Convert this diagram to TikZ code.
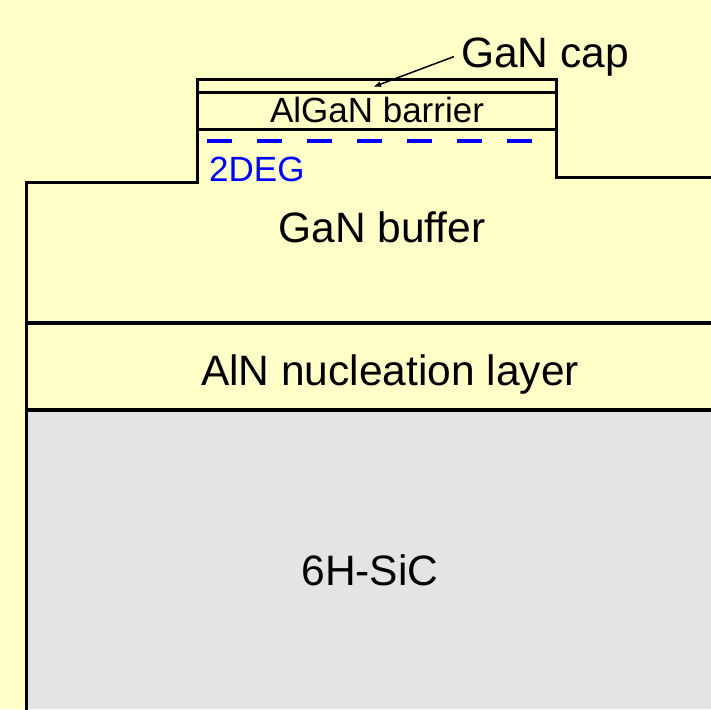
\documentclass[tikz,border=0pt]{standalone}
\usepackage{fontspec}
\setmainfont{Liberation Sans}
\usetikzlibrary{arrows.meta}
\definecolor{bgyellow}{RGB}{255,255,200}
\definecolor{sicgray}{RGB}{228,228,228}
\definecolor{degblue}{RGB}{0,0,255}
\begin{document}
\begin{tikzpicture}[x=1pt,y=-1pt,
  layer/.style={line width=3pt, line join=miter},
  big/.style={font=\fontsize{42.5}{42.5}\selectfont, inner sep=0pt, anchor=base},
  small/.style={font=\fontsize{35}{35}\selectfont, inner sep=0pt, anchor=base}]
\fill[bgyellow] (0,0) rectangle (711,709);
\useasboundingbox (0,0) rectangle (711,709);
\fill[sicgray] (26,410) rectangle (711,709);
\draw[layer] (26,712) -- (26,182) -- (197,182) -- (197,79) -- (556,79) -- (556,177) -- (713,177);
\draw[layer] (197,92) -- (556,92);
\draw[layer] (197,129) -- (556,129);
\draw[layer, line width=3.5pt] (26,323) -- (713,323);
\draw[layer, line width=3.5pt] (26,410) -- (713,410);
\draw[degblue, line width=4pt, dash pattern=on 25pt off 25pt] (207,141) -- (532,141);
\node[big] (cap) at (545,67) {GaN cap};
\node[small] (barrier) at (377,122) {AlGaN barrier};
\node[small, anchor=base west, text=degblue] (deg) at (209,181) {2DEG};
\node[big] (buffer) at (382,242) {GaN buffer};
\node[big] (aln) at (390,385) {AlN nucleation layer};
\node[big] (sic) at (370,585) {6H-SiC};
\coordinate (captip) at (373,87);
\draw[-{Latex[length=8pt,width=6pt]}, line width=1.5pt] ([xshift=-7pt]cap.west) -- (captip);
\end{tikzpicture}
\end{document}
